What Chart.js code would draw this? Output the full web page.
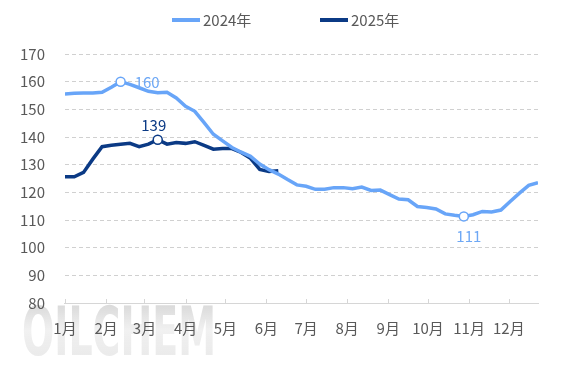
<!DOCTYPE html>
<html lang="zh">
<head>
<meta charset="utf-8">
<title>2024年 / 2025年</title>
<script src="https://cdn.jsdelivr.net/npm/chart.js@4.4.1/dist/chart.umd.min.js"></script>
<style>
  html, body { margin: 0; padding: 0; background: #fff; }
  canvas { display: block; }
</style>
</head>
<body>
<canvas id="graphique" width="567" height="378"></canvas>
<script>
// --- DONNÉES ---
const mois = ['1月', '2月', '3月', '4月', '5月', '6月', '7月', '8月', '9月', '10月', '11月', '12月'];
const joursDebutMois = [0, 31, 60, 91, 121, 152, 182, 213, 244, 274, 305, 335]; // jour de l'année
// une valeur par semaine
const valeurs2024 = [155.5, 155.8, 155.9, 155.9, 156.2, 158, 160, 159, 157.8, 156.5, 156, 156.2,
    154.1, 151.1, 149.3, 145.2, 141, 138.6, 136.2, 134.5, 133, 130.2, 128.2, 126.6,
    124.6, 122.7, 122.2, 121.1, 121.1, 121.7, 121.7, 121.3, 121.9, 120.7, 120.8, 119.2,
    117.6, 117.3, 114.9, 114.5, 114, 112.2, 111.7, 111.3, 111.9, 113.1, 112.9, 113.6,
    116.7, 119.7, 122.5, 123.5];
const valeurs2025 = [125.6, 125.6, 127.2, 132, 136.5, 137, 137.4, 137.7, 136.5, 137.4, 139, 137.4,
    138, 137.7, 138.3, 137, 135.6, 135.8, 135.8, 134.4, 132.3, 128.3, 127.5, 127.8];
const reperes2024 = [6, 43];   // points annotés (160, 111)
const reperes2025 = [10];      // point annoté (139)
const yMin = 80, yMax = 170, yPas = 10;

const bleuClair = '#68a5f8';
const bleuFonce = '#0b3a85';
const gris = '#595959';
const police = '"Noto Sans CJK SC", "Noto Sans", sans-serif';

// --- PLUGINS ---

// Filigrane en bas à gauche
const filigrane = {
    id: 'filigrane',
    beforeDraw(chart) {
        const ctx = chart.ctx;
        ctx.save();
        const grad = ctx.createLinearGradient(0, 306, 0, 356);
        grad.addColorStop(0, 'rgba(195,195,195,0.6)');
        grad.addColorStop(0.5, 'rgba(230,230,230,0.55)');
        grad.addColorStop(1, 'rgba(205,205,205,0.4)');
        ctx.fillStyle = grad;
        ctx.font = 'bold 68px "Liberation Sans Narrow", "DejaVu Sans Condensed", sans-serif';
        ctx.textBaseline = 'alphabetic';
        ctx.fillText('OILCHEM', 22, 355, 194);
        ctx.restore();
    }
};

// Petites graduations vers l'intérieur sur l'axe x
const graduationsX = {
    id: 'graduationsX',
    afterDatasetsDraw(chart) {
        const ctx = chart.ctx;
        const echelle = chart.scales.x;
        const bas = chart.chartArea.bottom;
        ctx.save();
        ctx.strokeStyle = '#d6d6d6';
        ctx.lineWidth = 1;
        echelle.ticks.forEach(t => {
            const x = Math.round(echelle.getPixelForValue(t.value)) + 0.5;
            ctx.beginPath();
            ctx.moveTo(x, bas - 4);
            ctx.lineTo(x, bas);
            ctx.stroke();
        });
        ctx.restore();
    }
};

// Étiquettes des points remarquables
const etiquettes = {
    id: 'etiquettes',
    afterDatasetsDraw(chart) {
        const ctx = chart.ctx;
        ctx.save();
        ctx.font = '15px ' + police;
        chart.data.datasets.forEach((ds, i) => {
            const meta = chart.getDatasetMeta(i);
            ds.reperes.forEach(idx => {
                const pt = meta.data[idx];
                const texte = String(Math.round(ds.data[idx].y));
                ctx.fillStyle = ds.couleurEtiquette;
                ctx.textBaseline = 'middle';
                if (ds.placement[idx] === 'droite') {
                    ctx.textAlign = 'left';
                    ctx.fillText(texte, pt.x + 14, pt.y + 1);
                } else if (ds.placement[idx] === 'dessus') {
                    ctx.textAlign = 'center';
                    ctx.fillText(texte, pt.x - 4, pt.y - 14);
                } else {
                    ctx.textAlign = 'center';
                    ctx.fillText(texte, pt.x + 5, pt.y + 20);
                }
            });
        });
        ctx.restore();
    }
};

// Légende centrée en haut
const legende = {
    id: 'legende',
    afterDraw(chart) {
        const ctx = chart.ctx;
        const y = 20;
        const depart = [172, 320];
        ctx.save();
        ctx.font = '15px ' + police;
        ctx.textBaseline = 'middle';
        ctx.textAlign = 'left';
        chart.data.datasets.forEach((ds, i) => {
            const x = depart[i];
            ctx.fillStyle = ds.borderColor;
            ctx.fillRect(x, y - 2, 28, 4);
            ctx.fillStyle = gris;
            ctx.fillText(ds.label, x + 31, y);
        });
        ctx.restore();
    }
};

// --- GRAPHIQUE ---
function serie(valeurs) {
    return valeurs.map((v, i) => ({ x: i, y: v }));
}

const ctx = document.getElementById('graphique').getContext('2d');
new Chart(ctx, {
    type: 'line',
    data: {
        datasets: [{
            label: '2024年',
            data: serie(valeurs2024),
            borderColor: bleuClair,
            backgroundColor: bleuClair,
            couleurEtiquette: '#6ea8f5',
            reperes: reperes2024,
            placement: { 6: 'droite', 43: 'dessous' },
            borderWidth: 3.5,
            tension: 0,
            pointRadius: c => reperes2024.includes(c.dataIndex) ? 4.5 : 0,
            pointHoverRadius: c => reperes2024.includes(c.dataIndex) ? 4.5 : 0,
            pointBackgroundColor: '#fff',
            pointBorderColor: bleuClair,
            pointBorderWidth: 1.5
        }, {
            label: '2025年',
            data: serie(valeurs2025),
            borderColor: bleuFonce,
            backgroundColor: bleuFonce,
            couleurEtiquette: bleuFonce,
            reperes: reperes2025,
            placement: { 10: 'dessus' },
            borderWidth: 3.5,
            tension: 0,
            pointRadius: c => reperes2025.includes(c.dataIndex) ? 4.5 : 0,
            pointHoverRadius: c => reperes2025.includes(c.dataIndex) ? 4.5 : 0,
            pointBackgroundColor: '#fff',
            pointBorderColor: bleuFonce,
            pointBorderWidth: 1.5
        }]
    },
    options: {
        responsive: false,
        animation: false,
        layout: { padding: { top: 54, left: 0, right: 29, bottom: 25 } },
        scales: {
            x: {
                type: 'linear',
                min: 0,
                max: valeurs2024.length - 1,
                afterBuildTicks: axe => {
                    axe.ticks = joursDebutMois.map(j => ({ value: j / 7 }));
                },
                ticks: {
                    autoSkip: false,
                    maxRotation: 0,
                    padding: 16,
                    color: gris,
                    font: { family: police, size: 15 },
                    callback: (v, i) => mois[i]
                },
                grid: { display: false, drawTicks: false },
                border: { display: true, color: '#d6d6d6', width: 1 }
            },
            y: {
                min: yMin,
                max: yMax,
                ticks: {
                    stepSize: yPas,
                    padding: 20,
                    color: gris,
                    font: { family: police, size: 15 }
                },
                grid: { color: '#d0d0d0', lineWidth: 1, drawTicks: false },
                border: { display: false, dash: [4, 3] }
            }
        },
        plugins: {
            legend: { display: false },
            tooltip: { enabled: false }
        }
    },
    plugins: [filigrane, graduationsX, etiquettes, legende]
});
</script>
</body>
</html>
